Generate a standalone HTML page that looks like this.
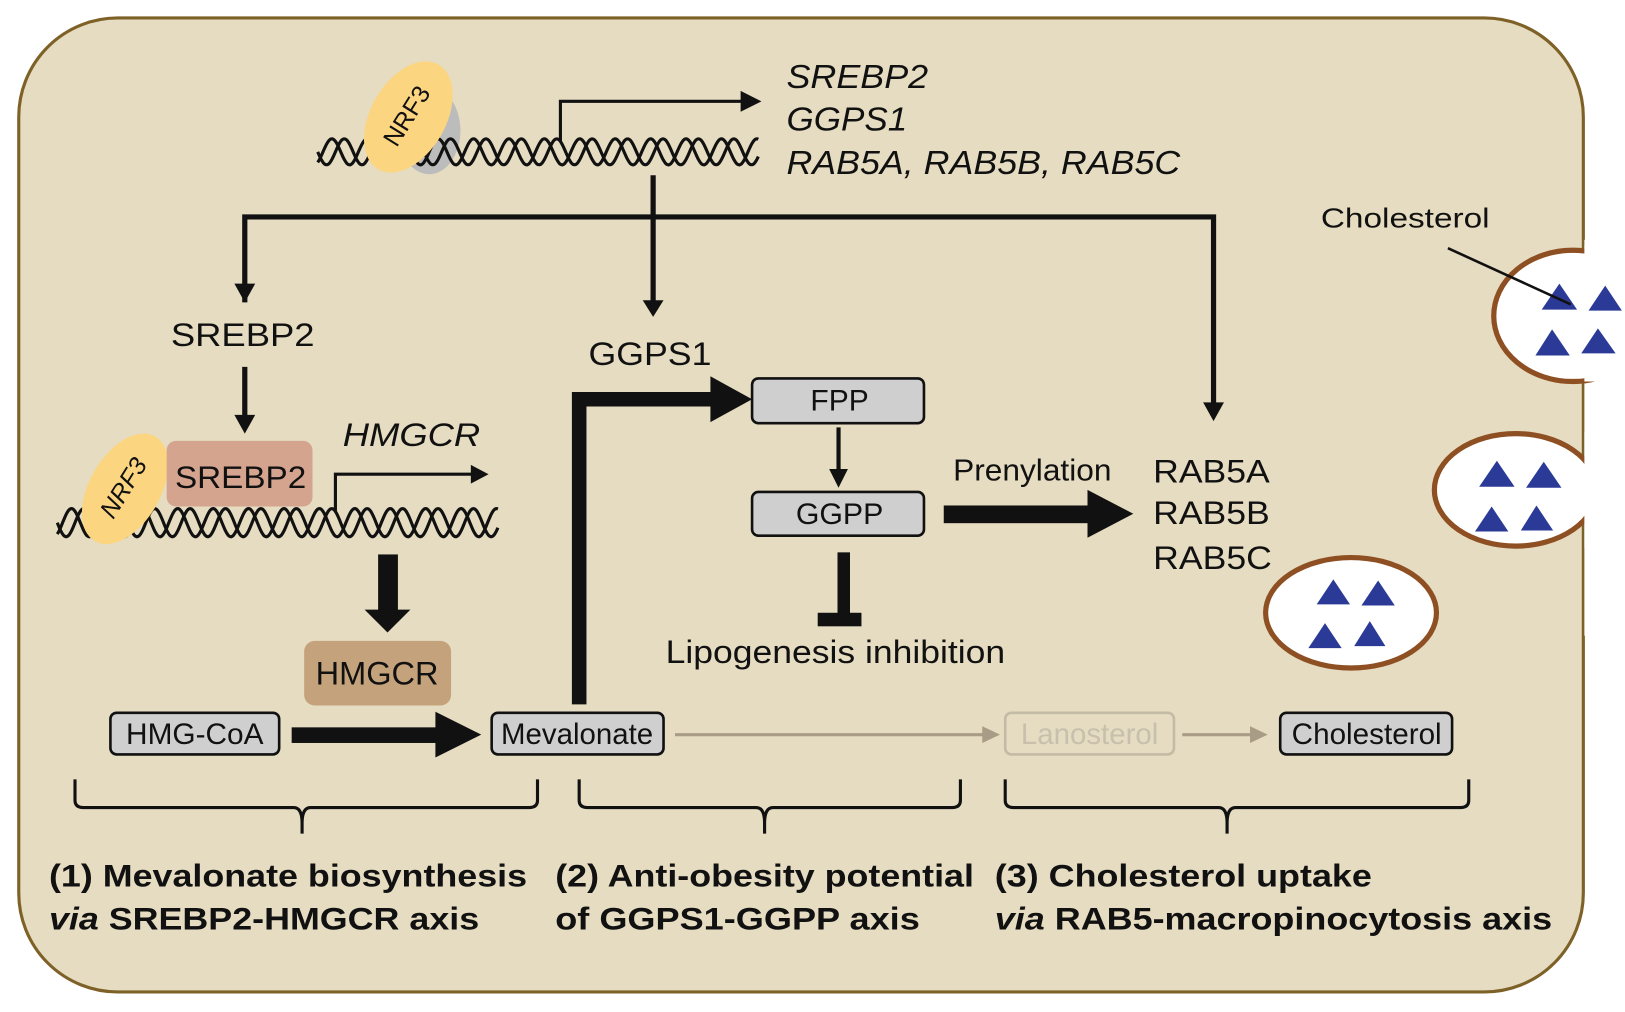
<!DOCTYPE html>
<html><head><meta charset="utf-8"><style>
html,body{margin:0;padding:0;background:#fff;}
svg{display:block}
text{font-family:"Liberation Sans",sans-serif;fill:#111}
</style></head><body>
<svg width="1625" height="1012" viewBox="0 0 1560 971" xmlns="http://www.w3.org/2000/svg">
<rect x="18" y="17" width="1502" height="935" rx="95" fill="#e5dcc1" stroke="#7e6127" stroke-width="3"/>

<!-- top DNA -->
<ellipse cx="412" cy="125" rx="30" ry="42" fill="#bdbcbc"/>
<path id="dna1" fill="none" stroke="#111" stroke-width="3"/>
<path id="dna2" fill="none" stroke="#111" stroke-width="3"/>
<ellipse cx="392" cy="112" rx="36" ry="58" transform="rotate(30 392 112)" fill="#fcd580"/>
<text x="392" y="112" font-size="24" transform="rotate(-58 392 112)" text-anchor="middle" dominant-baseline="middle">NRF3</text>
<polyline points="538,135 538,97 716,97" fill="none" stroke="#111" stroke-width="3"/>
<polygon points="711,87 731,97 711,107" fill="#111"/>
<g font-style="italic" font-size="32">
<text x="755" y="84" textLength="136" lengthAdjust="spacingAndGlyphs">SREBP2</text>
<text x="755" y="125" textLength="116" lengthAdjust="spacingAndGlyphs">GGPS1</text>
<text x="755" y="167" textLength="378" lengthAdjust="spacingAndGlyphs">RAB5A, RAB5B, RAB5C</text>
</g>

<!-- branch lines -->
<line x1="627" y1="168" x2="627" y2="290" stroke="#111" stroke-width="5"/>
<polygon points="617,288 637,288 627,304" fill="#111"/>
<polyline points="235,290 235,208 1165,208 1165,390" fill="none" stroke="#111" stroke-width="5"/>
<polygon points="225,272 245,272 235,290" fill="#111"/>
<polygon points="1155,386 1175,386 1165,404" fill="#111"/>

<text x="233" y="332" font-size="31" text-anchor="middle" textLength="138" lengthAdjust="spacingAndGlyphs">SREBP2</text>
<text x="624" y="350" font-size="31" text-anchor="middle" textLength="118" lengthAdjust="spacingAndGlyphs">GGPS1</text>
<line x1="235" y1="352" x2="235" y2="400" stroke="#111" stroke-width="5"/>
<polygon points="225,398 245,398 235,416" fill="#111"/>

<!-- bottom DNA -->
<path id="dna3" fill="none" stroke="#111" stroke-width="3"/>
<path id="dna4" fill="none" stroke="#111" stroke-width="3"/>
<ellipse cx="120" cy="469" rx="34" ry="58" transform="rotate(30 120 469)" fill="#fcd580"/>
<rect x="160" y="423" width="140" height="63" rx="9" fill="#d4a08c" opacity="0.95"/>
<text x="120" y="469" font-size="24" font-style="italic" transform="rotate(-58 120 469)" text-anchor="middle" dominant-baseline="middle">NRF3</text>
<text x="231" y="468" font-size="30" text-anchor="middle" textLength="126" lengthAdjust="spacingAndGlyphs">SREBP2</text>
<text x="395" y="428" font-size="31" font-style="italic" text-anchor="middle" textLength="132" lengthAdjust="spacingAndGlyphs">HMGCR</text>
<polyline points="322,490 322,455 456,455" fill="none" stroke="#111" stroke-width="3"/>
<polygon points="452,446 469,455 452,464" fill="#111"/>

<rect x="363" y="532" width="19" height="55" fill="#111"/>
<polygon points="350,585 394,585 372,607" fill="#111"/>
<rect x="292" y="615" width="141" height="62" rx="10" fill="#c4a27c"/>
<text x="362" y="657" font-size="31" text-anchor="middle" textLength="118" lengthAdjust="spacingAndGlyphs">HMGCR</text>

<!-- bottom row -->
<g stroke="#111" stroke-width="2.5" fill="#d0cfd0">
<rect x="106" y="684" width="162" height="40" rx="6"/>
<rect x="472" y="684" width="165" height="40" rx="6"/>
<rect x="722" y="363" width="165" height="43" rx="6"/>
<rect x="722" y="472" width="165" height="42" rx="6"/>
<rect x="1229" y="684" width="165" height="40" rx="6"/>
</g>
<rect x="965" y="684" width="162" height="40" rx="6" fill="none" stroke="#c4bba6" stroke-width="2.5"/>
<g font-size="28" text-anchor="middle">
<text x="187" y="714" textLength="132" lengthAdjust="spacingAndGlyphs">HMG-CoA</text>
<text x="554" y="714" textLength="146" lengthAdjust="spacingAndGlyphs">Mevalonate</text>
<text x="806" y="394" textLength="56" lengthAdjust="spacingAndGlyphs">FPP</text>
<text x="806" y="503" textLength="84" lengthAdjust="spacingAndGlyphs">GGPP</text>
<text x="1046" y="714" textLength="132" lengthAdjust="spacingAndGlyphs" style="fill:#c8c0ad">Lanosterol</text>
<text x="1312" y="714" textLength="144" lengthAdjust="spacingAndGlyphs">Cholesterol</text>
</g>
<rect x="280" y="698" width="140" height="15" fill="#111"/>
<polygon points="418,683 462,705 418,727" fill="#111"/>
<polygon points="549,676 563,676 563,390 682,390 682,361 722,383 682,405 682,376 549,376" fill="#111"/>
<line x1="805" y1="410" x2="805" y2="452" stroke="#111" stroke-width="4"/>
<polygon points="796,450 814,450 805,468" fill="#111"/>
<rect x="804" y="530" width="12" height="60" fill="#111"/>
<rect x="785" y="588" width="42" height="13" fill="#111"/>
<text x="802" y="636" font-size="31" text-anchor="middle" textLength="326" lengthAdjust="spacingAndGlyphs">Lipogenesis inhibition</text>
<text x="991" y="461" font-size="29" text-anchor="middle" textLength="152" lengthAdjust="spacingAndGlyphs">Prenylation</text>
<rect x="906" y="485" width="140" height="17" fill="#111"/>
<polygon points="1044,470 1088,493 1044,516" fill="#111"/>
<g font-size="31">
<text x="1107" y="463" textLength="112" lengthAdjust="spacingAndGlyphs">RAB5A</text>
<text x="1107" y="503" textLength="112" lengthAdjust="spacingAndGlyphs">RAB5B</text>
<text x="1107" y="546" textLength="114" lengthAdjust="spacingAndGlyphs">RAB5C</text>
</g>
<line x1="648" y1="705" x2="945" y2="705" stroke="#a89c86" stroke-width="3"/>
<polygon points="943,697 960,705 943,713" fill="#a89c86"/>
<line x1="1135" y1="705" x2="1202" y2="705" stroke="#a89c86" stroke-width="3"/>
<polygon points="1200,697 1217,705 1200,713" fill="#a89c86"/>

<!-- braces -->
<g fill="none" stroke="#111" stroke-width="3">
<path d="M72,748 L72,768 Q72,775 80,775 L282,775 Q290,775 290,790 L290,800 M290,790 Q290,775 298,775 L508,775 Q516,775 516,768 L516,748"/>
<path d="M556,748 L556,768 Q556,775 564,775 L726,775 Q734,775 734,790 L734,800 M734,790 Q734,775 742,775 L914,775 Q922,775 922,768 L922,748"/>
<path d="M965,748 L965,768 Q965,775 973,775 L1170,775 Q1178,775 1178,790 L1178,800 M1178,790 Q1178,775 1186,775 L1402,775 Q1410,775 1410,768 L1410,748"/>
</g>
<g font-size="30" font-weight="bold">
<text x="47" y="851" textLength="459" lengthAdjust="spacingAndGlyphs">(1) Mevalonate biosynthesis</text>
<text x="47" y="892" textLength="413" lengthAdjust="spacingAndGlyphs"><tspan font-style="italic">via</tspan> SREBP2-HMGCR axis</text>
<text x="533" y="851" textLength="402" lengthAdjust="spacingAndGlyphs">(2) Anti-obesity potential</text>
<text x="533" y="892" textLength="350" lengthAdjust="spacingAndGlyphs">of GGPS1-GGPP axis</text>
<text x="955" y="851" textLength="362" lengthAdjust="spacingAndGlyphs">(3) Cholesterol uptake</text>
<text x="955" y="892" textLength="535" lengthAdjust="spacingAndGlyphs"><tspan font-style="italic">via</tspan> RAB5-macropinocytosis axis</text>
</g>

<!-- vesicles -->
<rect x="1521" y="230" width="40" height="380" fill="#fff"/>
<ellipse cx="1510" cy="303" rx="76" ry="63" fill="#fff" stroke="#8e4f22" stroke-width="5"/>
<rect x="1560" y="230" width="10" height="150" fill="#fff"/>
<ellipse cx="1455" cy="470" rx="78" ry="54" fill="#fff" stroke="#8e4f22" stroke-width="5"/>
<rect x="1521" y="236" width="40" height="130" fill="#fff"/>
<rect x="1521" y="414" width="40" height="112" fill="#fff"/>
<ellipse cx="1297" cy="588" rx="82" ry="53" fill="#fff" stroke="#8e4f22" stroke-width="5"/>
<g fill="#2b3a96">
<polygon points="1480,297 1497,272 1514,297"/><polygon points="1525,298 1541,274 1557,298"/>
<polygon points="1474,341 1490,316 1507,341"/><polygon points="1518,339 1534,315 1551,339"/>
<polygon points="1420,467 1437,442 1454,467"/><polygon points="1465,468 1482,443 1499,468"/>
<polygon points="1416,510 1432,486 1448,510"/><polygon points="1460,509 1475,485 1491,509"/>
<polygon points="1264,580 1280,556 1296,580"/><polygon points="1307,581 1323,557 1339,581"/>
<polygon points="1256,622 1272,598 1288,622"/><polygon points="1300,620 1315,596 1330,620"/>
</g>
<text x="1268" y="218" font-size="27" textLength="162" lengthAdjust="spacingAndGlyphs">Cholesterol</text>
<line x1="1390" y1="238" x2="1508" y2="292" stroke="#111" stroke-width="2.5"/>
</svg>
<script>
function helix(x0,x1,y0,y1,period,phase){
  var d="",mid=(y0+y1)/2,a=(y1-y0)/2;
  for(var x=x0;x<=x1;x+=1){
    var t=(x-x0)/period*2*Math.PI+phase;
    var y=mid+a*Math.sin(t);
    d+=(x==x0?"M":"L")+x+","+y.toFixed(1)+" ";
  }
  return d;
}
document.getElementById("dna1").setAttribute("d",helix(305,728,133,158,34,0));
document.getElementById("dna2").setAttribute("d",helix(305,728,133,158,34,Math.PI*0.7));
document.getElementById("dna3").setAttribute("d",helix(55,478,488,515,34,0));
document.getElementById("dna4").setAttribute("d",helix(55,478,488,515,34,Math.PI*0.7));
</script>
</body></html>
